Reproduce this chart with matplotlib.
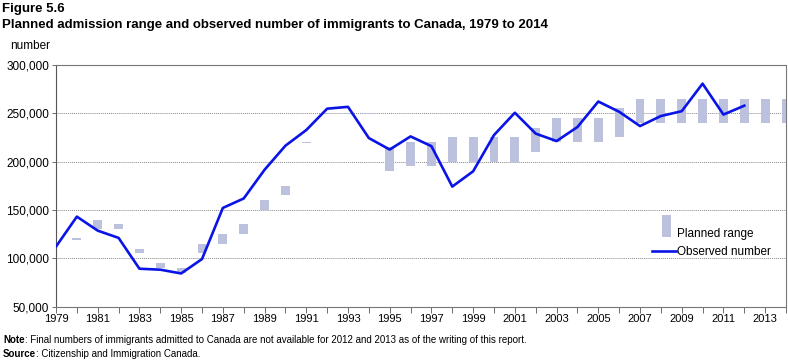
import matplotlib.pyplot as plt
import numpy as np
from matplotlib.ticker import FuncFormatter, MultipleLocator

# Years and data
years = list(range(1979, 2015))
observed_years = list(range(1979, 2013))
observed = [112100, 143100, 128600, 121100, 89200, 88200, 84300, 99200,
            152100, 161900, 191600, 216500, 232700, 254800, 256700, 224400,
            212500, 226100, 216000, 174200, 190000, 227500, 250600, 229000,
            221300, 235800, 262200, 251600, 236800, 247200, 252200, 280700,
            248700, 257900]
plan_low = [100000, 120000, 130000, 130000, 105000, 90000, 85000, 105000,
            115000, 125000, 150000, 165000, 220000, 250000, 250000, 250000,
            190000, 195000, 195000, 200000, 200000, 200000, 200000, 210000,
            220000, 220000, 220000, 225000, 240000, 240000, 240000, 240000,
            240000, 240000, 240000, 240000]
plan_high = [100000, 120000, 140000, 135000, 110000, 95000, 90000, 115000,
             125000, 135000, 160000, 175000, 220000, 250000, 250000, 250000,
             215000, 220000, 220000, 225000, 225000, 225000, 225000, 235000,
             245000, 245000, 245000, 255000, 265000, 265000, 265000, 265000,
             265000, 265000, 265000, 265000]

arial = ['Liberation Sans', 'DejaVu Sans']
plt.rcParams['font.family'] = arial

fig = plt.figure(figsize=(7.88, 3.62), dpi=100)
ax = fig.add_axes([56 / 788, 1 - 306.6 / 362, 730 / 788, 241.6 / 362])

# Planned range bars (single values get a thin dash)
low = np.array(plan_low)
high = np.array(plan_high)
heights = np.maximum(high - low, 1200)
bottoms = np.where(high - low == 0, low - 600, low)
bars = ax.bar(years, heights, width=0.43, bottom=bottoms, color='#bcc2de',
              edgecolor='none', zorder=2)

# Observed line
line, = ax.plot(observed_years, observed, color='#0a14e6', lw=1.9, zorder=3)

ax.set_xlim(1979, 2014)
ax.set_ylim(50000, 300000)
ax.set_xticks(range(1979, 2014, 2))
ax.xaxis.set_minor_locator(MultipleLocator(1))
ax.yaxis.set_major_locator(MultipleLocator(50000))
ax.yaxis.set_major_formatter(FuncFormatter(lambda v, p: f'{int(v):,}'))
ax.tick_params(axis='x', which='both', length=4, width=0.6, color='#555555',
               labelsize=8, pad=1)
ax.tick_params(axis='y', length=3, width=0.6, color='#555555', labelsize=8.5, pad=2)

ax.grid(axis='y', ls=(0, (1, 1)), color='#888888', lw=0.7, zorder=0)
for s in ['top', 'right', 'bottom']:
    ax.spines[s].set_linestyle((0, (1, 1)))
    ax.spines[s].set_color('#777777')
    ax.spines[s].set_linewidth(0.8)
ax.spines['left'].set_color('#555555')
ax.spines['left'].set_linewidth(0.8)

leg = ax.legend([bars.patches[3], line], ['Planned range', 'Observed number'],
                loc='upper left', bbox_to_anchor=(0.809, 0.35), frameon=False,
                fontsize=8.5, handlelength=2.0, handletextpad=0.1,
                labelspacing=0.5, borderpad=0)
patch = leg.legend_handles[0]
patch.set_width(7)
patch.set_x(patch.get_x() + 6.5)
patch.set_height(16)

# Titles and notes
fig.text(2 / 788, 1 - 9 / 362, 'Figure 5.6', fontsize=9.5, fontweight='bold',
         va='center')
fig.text(2 / 788, 1 - 25 / 362,
         'Planned admission range and observed number of immigrants to Canada, 1979 to 2014',
         fontsize=9.5, fontweight='bold', va='center')
fig.text(10 / 788, 1 - 46 / 362, 'number', fontsize=8.5, va='center')

note = fig.text(3 / 788, 1 - 343 / 362, 'Note', fontsize=7, fontweight='bold',
                va='baseline')
src = fig.text(3 / 788, 1 - 357 / 362, 'Source', fontsize=7, fontweight='bold',
               va='baseline')

fig.canvas.draw()
r = fig.canvas.get_renderer()
nb = note.get_window_extent(r)
fig.text(nb.x1 / fig.bbox.width, 1 - 343 / 362,
         ': Final numbers of immigrants admitted to Canada are not available '
         'for 2012 and 2013 as of the writing of this report.',
         fontsize=7, va='baseline')
sb = src.get_window_extent(r)
fig.text(sb.x1 / fig.bbox.width, 1 - 357 / 362,
         ': Citizenship and Immigration Canada.', fontsize=7, va='baseline')

plt.savefig('out.png', dpi=100)
